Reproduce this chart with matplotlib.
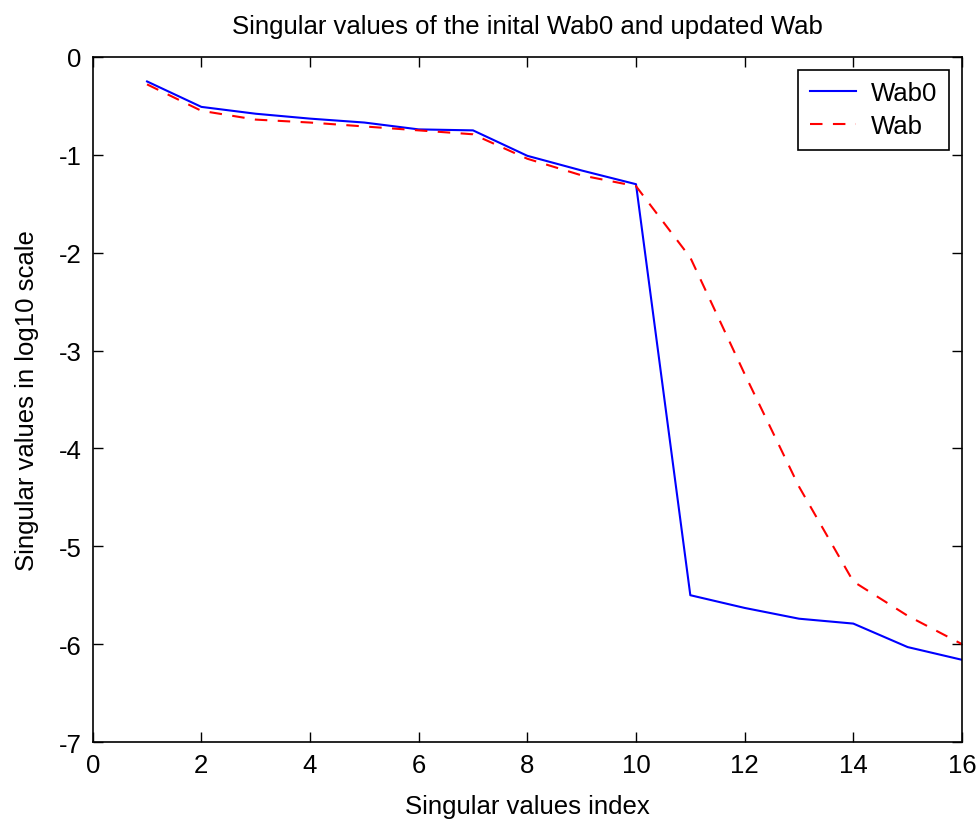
import matplotlib
matplotlib.use("Agg")
import matplotlib.pyplot as plt

plt.rcParams['font.family'] = ['Liberation Sans', 'DejaVu Sans']
plt.rcParams['axes.unicode_minus'] = False

# singular value index and log10 singular values
idx = list(range(1, 17))
wab0 = [-0.25, -0.51, -0.58, -0.63, -0.67, -0.74, -0.75, -1.01,
        -1.16, -1.30, -5.50, -5.63, -5.74, -5.79, -6.03, -6.16]
wab = [-0.28, -0.55, -0.64, -0.67, -0.71, -0.75, -0.79, -1.04,
       -1.21, -1.32, -2.05, -3.24, -4.39, -5.36, -5.71, -6.00]

FS = 18.5

fig = plt.figure(figsize=(9.78, 8.2), dpi=100)
ax = fig.add_axes([0.0948, 0.0939, 0.8888, 0.8354])

ax.plot(idx, wab0, color='#0000ff', linewidth=1.5, label='Wab0')
ax.plot(idx, wab, color='#ff0000', linewidth=1.5, linestyle=(0, (6, 5)), label='Wab')

ax.set_xlim(0, 16)
ax.set_ylim(-7, 0)
ax.set_xticks(range(0, 17, 2))
ax.set_yticks(range(-7, 1))
ax.tick_params(direction='in', length=7, width=1, labelsize=FS, top=True, right=True, pad=8)
for s in ax.spines.values():
    s.set_linewidth(1.2)

ax.set_xlabel('Singular values index', fontsize=FS, labelpad=12)
ax.set_ylabel('Singular values in log10 scale', fontsize=FS, labelpad=14)
ax.set_title('Singular values of the inital Wab0 and updated Wab', fontsize=FS, pad=17)

leg = ax.legend(loc='upper right', fontsize=FS, fancybox=False, framealpha=1,
                edgecolor='black', borderaxespad=0.5, handlelength=1.8,
                handletextpad=0.6, borderpad=0.45, labelspacing=0.35)
leg.get_frame().set_linewidth(1.2)

fig.savefig('out.png', dpi=100)
